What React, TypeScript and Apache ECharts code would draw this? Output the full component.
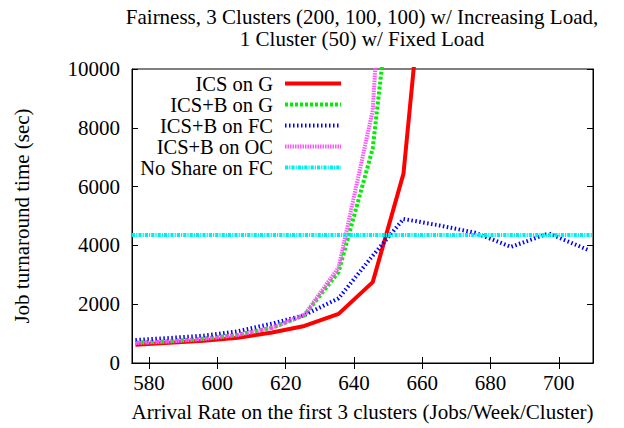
import React, { useEffect, useRef } from "react";
import * as echarts from "echarts";

const titleLines = [
  "Fairness, 3 Clusters (200, 100, 100) w/ Increasing Load,",
  "1 Cluster (50) w/ Fixed Load",
];
const xAxisName = "Arrival Rate on the first 3 clusters (Jobs/Week/Cluster)";
const yAxisName = "Job turnaround time (sec)";
const xTicks = [580, 600, 620, 640, 660, 680, 700];

const seriesNames = ["ICS on G", "ICS+B on G", "ICS+B on FC", "ICS+B on OC", "No Share on FC"];

const arrivalRates = [576, 586, 596, 606, 616, 625.5, 635.5, 645.5, 654.5, 665, 675.5, 686, 697, 708.5];
const icsOnG = [620, 690, 760, 860, 1040, 1260, 1670, 2750, 6440, 19000, null, null, null, null];
const icsBOnG = [690, 740, 830, 960, 1200, 1620, 3100, 7300, 16600, null, null, null, null, null];
const icsBOnFC = [780, 850, 930, 1080, 1340, 1630, 2200, 3650, 4900, 4680, 4430, 3950, 4410, 3850];
const icsBOnOC = [680, 730, 820, 950, 1200, 1640, 3250, 8600, 26000, null, null, null, null, null];
const noShareX = [575, 710];
const noShareOnFC = [4350, 4350];

const FONT = "Liberation Serif";
const FS = 21;
const LEGEND_FS = 20.5;
const colors = ["#ff0000", "#00ee00", "#0000ff", "#ff55ff", "#00eeee"];
const dashes: (number[] | "solid")[] = ["solid", [3, 2], [1.5, 2.5], [1.5, 1], [3.2, 1, 1.2, 1]];

const pairs = (xs: number[], ys: (number | null)[]) => xs.map((x, i) => [x, ys[i]]);

export default function App() {
  const ref = useRef<HTMLDivElement>(null);
  useEffect(() => {
    if (!ref.current) return;
    const chart = echarts.init(ref.current, null, { renderer: "svg" });
    const seriesData = [
      pairs(arrivalRates, icsOnG),
      pairs(arrivalRates, icsBOnG),
      pairs(arrivalRates, icsBOnFC),
      pairs(arrivalRates, icsBOnOC),
      pairs(noShareX, noShareOnFC),
    ];
    const legendTop = 83.5;
    const legendStep = 21;
    const graphic: any[] = [];
    seriesNames.forEach((name, i) => {
      const y = legendTop + i * legendStep;
      graphic.push({
        type: "text",
        x: 273,
        y,
        style: {
          text: name,
          align: "right",
          verticalAlign: "middle",
          fontFamily: FONT,
          fontSize: LEGEND_FS,
          lineHeight: 20,
          fill: "#000",
        },
      });
      graphic.push({
        type: "line",
        shape: { x1: 285, y1: y, x2: 341, y2: y },
        style: {
          stroke: colors[i],
          lineWidth: 4,
          lineDash: dashes[i] === "solid" ? null : dashes[i],
        },
      });
    });
    const tickStyle = { show: true, inside: true, length: 6, lineStyle: { color: "#000", width: 1 } };
    const labelFmt = (v: number) => String(v);
    chart.setOption({
      animation: false,
      backgroundColor: "#fff",
      title: {
        text: titleLines.join("\n"),
        left: 362,
        textAlign: "center",
        top: 6,
        padding: 0,
        textStyle: { fontFamily: FONT, fontSize: FS, fontWeight: "normal", color: "#000", lineHeight: 22 },
      },
      grid: { left: 132, right: 31, top: 69, bottom: 65, show: true, borderColor: "#000", borderWidth: 1 },
      xAxis: [
        {
          type: "value",
          min: 575,
          max: 710,
          name: xAxisName,
          nameLocation: "middle",
          nameGap: 38,
          nameTextStyle: { fontFamily: FONT, fontSize: FS, color: "#000" },
          axisLine: { show: true, lineStyle: { color: "#000" } },
          axisTick: { ...tickStyle, customValues: xTicks },
          axisLabel: { customValues: xTicks, formatter: labelFmt, fontFamily: FONT, fontSize: FS, color: "#000", margin: 9 },
          splitLine: { show: false },
        },
        {
          type: "value",
          position: "top",
          min: 575,
          max: 710,
          axisLine: { show: true, lineStyle: { color: "#000" } },
          axisTick: { ...tickStyle, customValues: xTicks },
          axisLabel: { show: false, customValues: xTicks },
          splitLine: { show: false },
        },
      ],
      yAxis: [
        {
          type: "value",
          min: 0,
          max: 10000,
          interval: 2000,
          name: yAxisName,
          nameLocation: "middle",
          nameGap: 100,
          nameTextStyle: { fontFamily: FONT, fontSize: FS, color: "#000" },
          axisLine: { show: true, lineStyle: { color: "#000" } },
          axisTick: tickStyle,
          axisLabel: { formatter: labelFmt, fontFamily: FONT, fontSize: FS, color: "#000", margin: 12 },
          splitLine: { show: false },
        },
        {
          type: "value",
          position: "right",
          min: 0,
          max: 10000,
          interval: 2000,
          axisLine: { show: true, lineStyle: { color: "#000" } },
          axisTick: tickStyle,
          axisLabel: { show: false },
          splitLine: { show: false },
        },
      ],
      series: seriesNames.map((name, i) => ({
        name,
        type: "line",
        xAxisIndex: 0,
        yAxisIndex: 0,
        data: seriesData[i],
        showSymbol: false,
        symbol: "none",
        clip: true,
        connectNulls: false,
        lineStyle: { color: colors[i], width: 4, type: dashes[i] },
        z: 2 + i,
      })),
      graphic,
    });
    return () => chart.dispose();
  }, []);
  return <div ref={ref} style={{ position: "fixed", left: 0, top: 0, width: 624, height: 428 }} />;
}
